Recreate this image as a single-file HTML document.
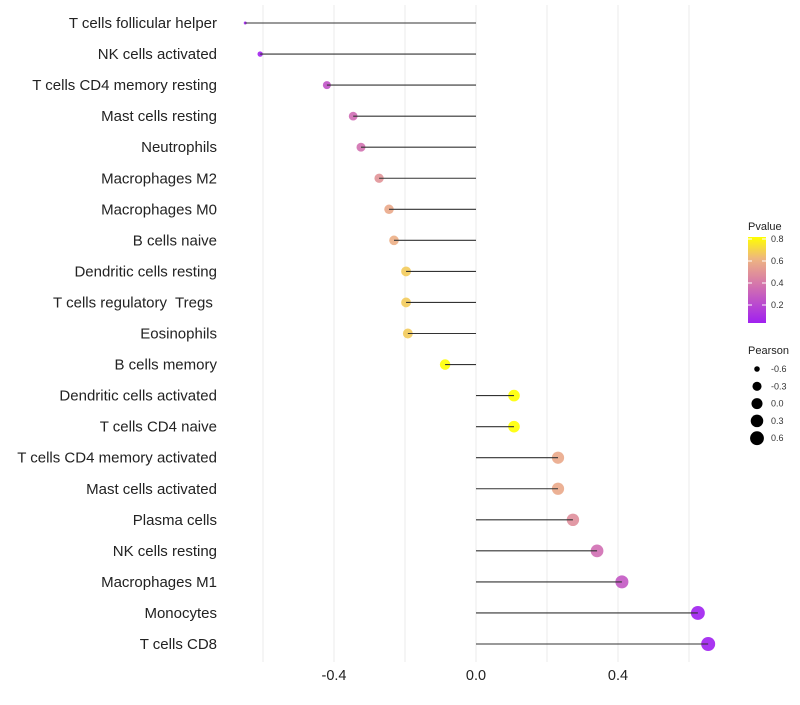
<!DOCTYPE html>
<html><head><meta charset="utf-8"><style>
body{margin:0;background:#fff;width:800px;height:700px;overflow:hidden;font-family:"Liberation Sans",sans-serif}
text{white-space:pre}
</style></head><body>
<svg id="chart" width="800" height="700" xmlns="http://www.w3.org/2000/svg"></svg>
<script>
const categories=["T cells follicular helper","NK cells activated","T cells CD4 memory resting","Mast cells resting","Neutrophils","Macrophages M2","Macrophages M0","B cells naive","Dendritic cells resting","T cells regulatory  Tregs ","Eosinophils","B cells memory","Dendritic cells activated","T cells CD4 naive","T cells CD4 memory activated","Mast cells activated","Plasma cells","NK cells resting","Macrophages M1","Monocytes","T cells CD8"];
const pearson=[-0.65,-0.608,-0.42,-0.346,-0.324,-0.273,-0.245,-0.231,-0.197,-0.197,-0.192,-0.087,0.107,0.107,0.231,0.231,0.273,0.341,0.411,0.625,0.654];
const pvalue=[0.02,0.05,0.25,0.35,0.37,0.5,0.58,0.6,0.68,0.68,0.68,0.85,0.83,0.83,0.58,0.58,0.48,0.36,0.27,0.03,0.02];
const xTicks=[-0.4,0.0,0.4];
const colorTicks=[0.2,0.4,0.6,0.8];
const sizeTicks=[-0.6,-0.3,0.0,0.3,0.6];
const NS="http://www.w3.org/2000/svg";
const svg=document.getElementById('chart');
function X(v){return 476+v*355;}
function Y(i){return 23+i*31.05;}
function R(v){const t=Math.max(0,Math.min(1,(v+0.65)/1.3));return 1.5+5.5*Math.pow(t,0.45);}
function mix(a,b,t){return a.map((c,i)=>Math.round(c+(b[i]-c)*t));}
const stops=[[0.04,[160,32,240]],[0.4,[214,120,170]],[0.62,[238,180,130]],[0.82,[255,255,0]]];
function col(p){
  if(p<=stops[0][0])return 'rgb('+stops[0][1]+')';
  for(let k=0;k<stops.length-1;k++){const a=stops[k],b=stops[k+1];if(p<=b[0])return 'rgb('+mix(a[1],b[1],(p-a[0])/(b[0]-a[0]))+')';}
  return 'rgb('+stops[stops.length-1][1]+')';
}
function el(t,a,parent){const e=document.createElementNS(NS,t);for(const k in a)e.setAttribute(k,a[k]);(parent||svg).appendChild(e);return e;}
[-0.6,-0.4,-0.2,0,0.2,0.4,0.6].forEach(v=>{
  const g=el('line',{x1:X(v),x2:X(v),y1:5,y2:662,stroke:'#ebebeb','stroke-width':1});
  
  
});
xTicks.forEach(v=>{
  const t=el('text',{x:X(v),y:680,'text-anchor':'middle','font-size':14.5,fill:'#222'});
  t.textContent=v.toFixed(1);
  
  
});
categories.forEach((c,i)=>{
  const t=el('text',{x:217,y:Y(i)+5,'text-anchor':'end','font-size':15,fill:'#222'});
  t.textContent=c;
  
  
  const p=el('circle',{cx:X(pearson[i]),cy:Y(i),r:R(pearson[i]),fill:col(pvalue[i]),'fill-opacity':0.9});
  
  
  const l=el('line',{x1:X(0),x2:X(pearson[i]),y1:Y(i),y2:Y(i),stroke:'#333','stroke-width':1.1});
  
  
});
const defs=el('defs',{});
const lg=el('linearGradient',{id:'cg',x1:0,y1:1,x2:0,y2:0},defs);
for(let k=0;k<=20;k++){const p=0.04+k*(0.78/20);el('stop',{offset:k/20,'stop-color':col(p)},lg);}
const lt=el('text',{x:748,y:230,'font-size':11,fill:'#222'});lt.textContent='Pvalue';


const bar=el('rect',{x:748,y:237,width:18,height:86,fill:'url(#cg)'});


function CY(p){return 239+(0.8-p)*110;}
colorTicks.forEach(p=>{
  el('line',{x1:748,x2:752,y1:CY(p),y2:CY(p),stroke:'#fff'});el('line',{x1:762,x2:766,y1:CY(p),y2:CY(p),stroke:'#fff'});
  const t=el('text',{x:771,y:CY(p)+3,'font-size':9,fill:'#333'});t.textContent=p.toFixed(1);
  
  
});
const st=el('text',{x:748,y:354,'font-size':11,fill:'#222'});st.textContent='Pearson';


sizeTicks.forEach((v,k)=>{
  const y=369+k*17.3;
  const c=el('circle',{cx:757,cy:y,r:R(v),fill:'#000'});
  
  
  const t=el('text',{x:771,y:y+3,'font-size':9,fill:'#333'});t.textContent=v.toFixed(1);
  
  
});
</script>
</body></html>
